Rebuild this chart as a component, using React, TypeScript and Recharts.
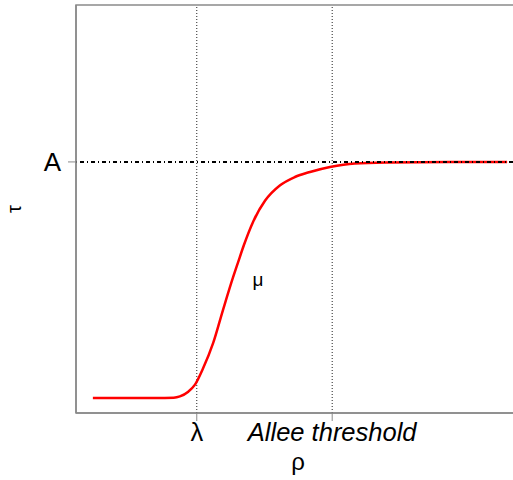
import {
  LineChart,
  Line,
  XAxis,
  YAxis,
  ReferenceLine,
  ReferenceArea,
  ReferenceDot,
} from "recharts";

// rho positions (arbitrary units) and tau response
const rho = [0.38, 1.0, 1.8, 2.2, 2.34, 2.52, 2.68, 2.86, 3.09, 3.31, 3.54, 3.65, 3.78, 3.99, 4.26, 4.59, 4.93, 5.27, 5.72, 6.28, 7.07, 8.4, 9.71];
const tau = [0.06, 0.06, 0.06, 0.061, 0.066, 0.084, 0.113, 0.177, 0.279, 0.41, 0.542, 0.6, 0.668, 0.762, 0.846, 0.906, 0.94, 0.96, 0.98, 0.994, 0.998, 1.0, 1.0];

const lambda = 2.72;
const alleeThreshold = 5.77;
const asymptote = 1;
const muPos = [4.1, 0.53];

const xTicks = [lambda, alleeThreshold];
const xTickLabels = ["λ", "Allee threshold"];

const data = rho.map((r, i) => ({ rho: r, tau: tau[i] }));

const FONT = "'Liberation Sans', Arial, sans-serif";
const AXIS = "#8a8a8a";

function XTick(props: any) {
  const { x, y, payload, index } = props;
  const italic = index === 1;
  return (
    <text
      x={x}
      y={y + 18}
      textAnchor="middle"
      fontFamily={FONT}
      fontSize={25.5}
      fontStyle={italic ? "italic" : "normal"}
      fill="#000"
    >
      {xTickLabels[index] ?? payload.value}
    </text>
  );
}

export default function App() {
  return (
    <div style={{ position: "absolute", left: 0, top: 0, width: 513, height: 480, overflow: "hidden", background: "#fff" }}>
      <LineChart width={540} height={480} data={data} margin={{ top: 5, right: 20, bottom: 0, left: 0 }}>
        <ReferenceArea
          x1={0}
          x2={10}
          y1={0}
          y2={1.625}
          fill="none"
          stroke={AXIS}
          strokeWidth={1.5}
          ifOverflow="visible"
        />
        <XAxis
          dataKey="rho"
          type="number"
          domain={[0, 10]}
          ticks={xTicks}
          tick={<XTick />}
          tickSize={8}
          tickMargin={2}
          height={67}
          axisLine={{ stroke: AXIS, strokeWidth: 1.5 }}
          tickLine={{ stroke: AXIS, strokeWidth: 1 }}
          interval={0}
          allowDataOverflow
          label={{ value: "ρ", position: "insideBottom", offset: 10, fontSize: 24, fill: "#000", fontFamily: FONT }}
        />
        <YAxis
          type="number"
          domain={[0, 1.625]}
          ticks={[asymptote]}
          tickFormatter={() => "A"}
          tickSize={8}
          tickMargin={7}
          width={76}
          tick={{ fontSize: 26, fill: "#000", fontFamily: FONT }}
          axisLine={{ stroke: AXIS, strokeWidth: 1.5 }}
          tickLine={{ stroke: AXIS, strokeWidth: 1 }}
          allowDataOverflow
          label={{
            value: "τ",
            angle: -90,
            position: "insideLeft",
            offset: 14,
            fontSize: 20,
            fill: "#000",
            fontFamily: FONT,
            style: { textAnchor: "middle" },
          }}
        />
        <ReferenceLine x={lambda} stroke="#222" strokeWidth={1} strokeDasharray="1 2" />
        <ReferenceLine x={alleeThreshold} stroke="#222" strokeWidth={1} strokeDasharray="1 2" />
        <Line
          type="monotone"
          dataKey="tau"
          stroke="#ff0000"
          strokeWidth={2.5}
          dot={false}
          activeDot={false}
          isAnimationActive={false}
        />
        <ReferenceLine y={asymptote} stroke="#000" strokeWidth={2} strokeDasharray="1 3 4 3" />
        <ReferenceDot
          x={muPos[0]}
          y={muPos[1]}
          r={0}
          shape={(p: any) => (
            <text
              x={p.cx}
              y={p.cy}
              textAnchor="middle"
              dominantBaseline="central"
              fontSize={19}
              fontFamily={FONT}
              fill="#000"
            >
              μ
            </text>
          )}
        />
      </LineChart>
    </div>
  );
}
